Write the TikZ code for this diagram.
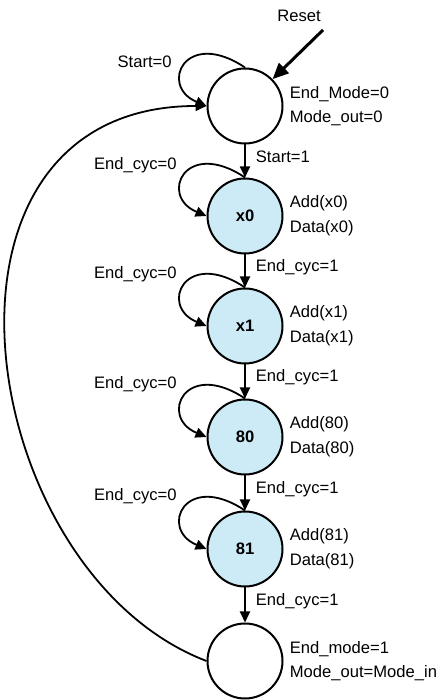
\documentclass[tikz,border=0pt]{standalone}
\usepackage{fontspec}
\setmainfont{Liberation Sans}
\usetikzlibrary{arrows.meta,positioning}
\definecolor{statefill}{RGB}{205,235,246}
\newcommand\fsmfont{\fontsize{8.3}{12.3}\selectfont}
\tikzset{
  state/.style={circle,draw,line width=1pt,minimum size=37.5pt,inner sep=0pt,font=\fsmfont\bfseries},
  active/.style={state,fill=statefill},
  lbl/.style={inner sep=0pt,align=left,font=\fsmfont},
  trans/.style={line width=0.9pt,-{Triangle[length=5.5pt,width=5pt]}},
}
\begin{document}
\begin{tikzpicture}[x=0.5pt,y=0.5pt]
  \useasboundingbox (0,0) rectangle (439,700);
  % states
  \node[state]  (idle) at (245,594) {};
  \node[active] (sx0)  at (245,484) {x0};
  \node[active] (sx1)  at (245,374) {x1};
  \node[active] (s80)  at (245,263) {80};
  \node[active] (s81)  at (245,151) {81};
  \node[state]  (done) at (245,39)  {};
  % outputs
  \node[lbl,right=3pt of idle.east] {End\_Mode=0\\Mode\_out=0};
  \node[lbl,right=3pt of sx0.east] {Add(x0)\\Data(x0)};
  \node[lbl,right=3pt of sx1.east] {Add(x1)\\Data(x1)};
  \node[lbl,right=3pt of s80.east] {Add(80)\\Data(80)};
  \node[lbl,right=3pt of s81.east] {Add(81)\\Data(81)};
  \node[lbl,right=3pt of done.east] {End\_mode=1\\Mode\_out=Mode\_in};
  % reset
  \coordinate (rst) at (323,670);
  \node[lbl] (rstlbl) at (299,684) {Reset};
  \draw[line width=1.5pt,-{Triangle[length=8pt,width=7pt]}] (rst) -- (idle);
  % self loops
  \foreach \s in {idle,sx0,sx1,s80,s81}
    \draw[trans] (\s.north) .. controls +(-60,40) and +(-48,20) .. (\s.west);
  \node[lbl,anchor=east] at (172,638) {Start=0};
  \node[lbl,anchor=east] at (177,535) {End\_cyc=0};
  \node[lbl,anchor=east] at (177,426) {End\_cyc=0};
  \node[lbl,anchor=east] at (177,316) {End\_cyc=0};
  \node[lbl,anchor=east] at (177,204) {End\_cyc=0};
  % forward transitions
  \draw[trans] (idle) -- node[lbl,anchor=west,xshift=5pt,yshift=2pt] {Start=1} (sx0);
  \draw[trans] (sx0) -- node[lbl,anchor=west,xshift=5pt,yshift=2pt] {End\_cyc=1} (sx1);
  \draw[trans] (sx1) -- node[lbl,anchor=west,xshift=5pt,yshift=2pt] {End\_cyc=1} (s80);
  \draw[trans] (s80) -- node[lbl,anchor=west,xshift=5pt,yshift=2pt] {End\_cyc=1} (s81);
  \draw[trans] (s81) -- node[lbl,anchor=west,xshift=5pt,yshift=2pt] {End\_cyc=1} (done);
  % back to idle
  \draw[trans] (done.west) .. controls +(-233,89) and +(-300,0) .. (idle.west);
\end{tikzpicture}
\end{document}
